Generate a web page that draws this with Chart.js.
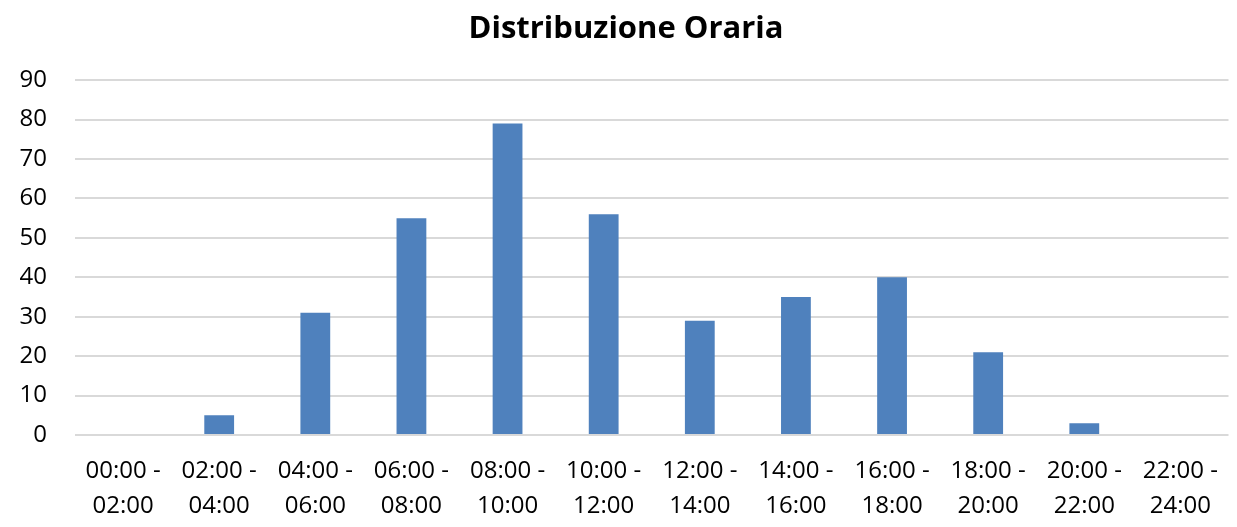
<!DOCTYPE html>
<html>
<head>
<meta charset="utf-8">
<script src="https://cdn.jsdelivr.net/npm/chart.js@4"></script>
<style>
  body { margin: 0; background: #fff; }
  #wrap { width: 1237px; height: 527px; }
</style>
</head>
<body>
<div id="wrap"><canvas id="Distribuzione Oraria"></canvas></div>
<script>
var fasce = [
  ['00:00 -', '02:00'], ['02:00 -', '04:00'], ['04:00 -', '06:00'], ['06:00 -', '08:00'],
  ['08:00 -', '10:00'], ['10:00 -', '12:00'], ['12:00 -', '14:00'], ['14:00 -', '16:00'],
  ['16:00 -', '18:00'], ['18:00 -', '20:00'], ['20:00 -', '22:00'], ['22:00 -', '24:00']
];
var conteggi = [0, 5, 31, 55, 79, 56, 29, 35, 40, 21, 3, 0];
var yTicks = [0, 10, 20, 30, 40, 50, 60, 70, 80, 90];

var BarPloter = {
  plot: function plot(title, data, label) {
    var ctx = document.getElementById(title).getContext('2d');
    var myChart = new Chart(ctx, {
      type: 'bar',
      data: {
        labels: label,
        datasets: [{
          label: 'conteggio',
          data: data,
          backgroundColor: '#4f81bd',
          barPercentage: 0.62,
          categoryPercentage: 0.5
        }]
      },
      options: {
        responsive: true,
        maintainAspectRatio: false,
        animation: false,
        layout: { padding: { left: 15, right: 0, top: 4, bottom: 0 } },
        plugins: {
          legend: { display: false },
          tooltip: { enabled: false },
          title: {
            display: true,
            text: title,
            color: '#000',
            font: { family: 'Open Sans', size: 31, weight: 'bold', lineHeight: 1.2 },
            padding: { top: 7, bottom: 32 }
          }
        },
        scales: {
          y: {
            min: yTicks[0],
            max: yTicks[yTicks.length - 1],
            afterFit: function (scale) { scale.width = 60; },
            ticks: {
              stepSize: 10,
              color: '#000',
              padding: 28,
              font: { family: 'Open Sans', size: 24 }
            },
            grid: { color: '#d9d9d9', lineWidth: 2, drawTicks: false },
            border: { display: false }
          },
          x: {
            afterFit: function (scale) { scale.height = 92; },
            ticks: {
              color: '#000',
              padding: 19,
              maxRotation: 0,
              autoSkip: false,
              font: { family: 'Open Sans', size: 24, lineHeight: 1.45 }
            },
            grid: { display: false, drawTicks: false },
            border: { display: false }
          }
        }
      }
    });
  }
};

BarPloter.plot('Distribuzione Oraria', conteggi, fasce);
</script>
</body>
</html>
